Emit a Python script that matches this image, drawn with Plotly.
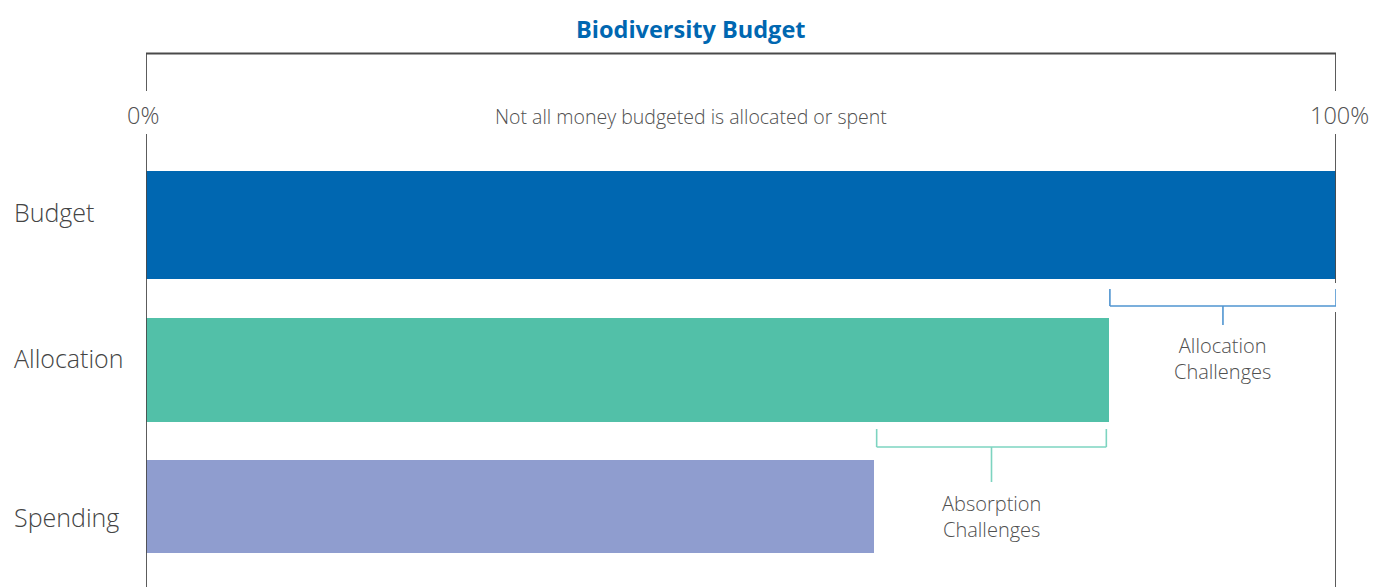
import plotly.graph_objects as go

# ---- data ----
categories = ["Budget", "Allocation", "Spending"]
values = [100, 80.9, 61.2]
tick_values = [0, 100]
tick_labels = ["0%", "100%"]
title_text = "Biodiversity Budget"
subtitle_text = "Not all money budgeted is allocated or spent"
gap_labels = ["Allocation<br>Challenges", "Absorption<br>Challenges"]

# ---- style ----
W, H = 1375, 587
M_L, M_R, M_T, M_B = 146, 38.5, 53, 0
PLOT_H = H - M_T - M_B
bar_colors = ["#0067B1", "#52C0A8", "#8F9DCF"]
bracket_colors = ["#4F94D0", "#7DD4C0"]
axis_color = "#4a4a4a"
text_color = "#505050"
FONT = "Open Sans"

# per-bar offsets / widths (category units, axis reversed)
bar_offsets = [-0.383, -0.338, -0.333]
bar_widths = [0.768, 0.733, 0.662]


def py(p):
    """pixel row -> paper y"""
    return (H - M_B - p) / PLOT_H


def px(p):
    """pixel column -> paper x"""
    return (p - M_L) / (W - M_L - M_R)


fig = go.Figure()
fig.add_trace(go.Bar(
    y=categories, x=values, orientation="h",
    marker=dict(color=bar_colors, line=dict(width=0)),
    offset=bar_offsets, width=bar_widths,
    hoverinfo="skip", showlegend=False,
))

shapes = []
line = dict(color=axis_color, width=1.8)
xmin, xmax = tick_values[0], tick_values[-1]
# top frame line
shapes.append(dict(type="line", xref="x", yref="paper", x0=xmin, x1=xmax,
                   y0=py(53.5), y1=py(53.5), line=line))
# left vertical
shapes.append(dict(type="line", xref="x", yref="paper", x0=xmin, x1=xmin,
                   y0=py(53.5), y1=py(91), line=line))
shapes.append(dict(type="line", xref="x", yref="paper", x0=xmin, x1=xmin,
                   y0=py(134), y1=py(H), line=line))
# right vertical
shapes.append(dict(type="line", xref="x", yref="paper", x0=xmax, x1=xmax,
                   y0=py(53.5), y1=py(91), line=line))
shapes.append(dict(type="line", xref="x", yref="paper", x0=xmax, x1=xmax,
                   y0=py(134), y1=py(283), line=line))
shapes.append(dict(type="line", xref="x", yref="paper", x0=xmax, x1=xmax,
                   y0=py(312), y1=py(H), line=line))


def bracket(xa, xb, ytop, ybot, ystem, color):
    ln = dict(color=color, width=1.6)
    mid = (xa + xb) / 2
    return [
        dict(type="line", xref="x", yref="paper", x0=xa, x1=xa, y0=py(ytop), y1=py(ybot), line=ln),
        dict(type="line", xref="x", yref="paper", x0=xb, x1=xb, y0=py(ytop), y1=py(ybot), line=ln),
        dict(type="line", xref="x", yref="paper", x0=xa, x1=xb, y0=py(ybot), y1=py(ybot), line=ln),
        dict(type="line", xref="x", yref="paper", x0=mid, x1=mid, y0=py(ybot), y1=py(ystem), line=ln),
    ]


shapes += bracket(values[1] + 0.1, values[0], 289, 306, 325, bracket_colors[0])
shapes += bracket(values[2] + 0.2, values[1] - 0.2, 429, 447, 482, bracket_colors[1])

annotations = []
# tick labels
for tv, tl in zip(tick_values, tick_labels):
    annotations.append(dict(x=tv, xref="x", y=py(115), yref="paper", text=tl,
                            showarrow=False, xanchor="center", yanchor="middle",
                            xshift=-3 if tv == xmin else 3,
                            font=dict(family=FONT, size=23.5, color=text_color, weight=300)))
# subtitle
annotations.append(dict(x=px(691.5), xref="paper", y=py(117), yref="paper", text=subtitle_text,
                        showarrow=False, xanchor="center", yanchor="middle",
                        font=dict(family=FONT, size=19.5, color=text_color, weight=300)))
# title
annotations.append(dict(x=px(691), xref="paper", y=py(29), yref="paper", text="<b>" + title_text + "</b>",
                        showarrow=False, xanchor="center", yanchor="middle",
                        font=dict(family=FONT, size=23.5, color="#0067B1")))
# category labels
label_rows = [212, 358, 517]
for cat, row in zip(categories, label_rows):
    annotations.append(dict(x=px(12), xref="paper", y=py(row), yref="paper", text=cat,
                            showarrow=False, xanchor="left", yanchor="middle",
                            font=dict(family=FONT, size=25, color="#444444", weight=300)))
# bracket labels
annotations.append(dict(x=(values[1] + values[0]) / 2, xref="x", y=py(358), yref="paper",
                        text=gap_labels[0], showarrow=False, xanchor="center", yanchor="middle",
                        font=dict(family=FONT, size=20, color=text_color, weight=300)))
annotations.append(dict(x=(values[2] + values[1]) / 2, xref="x", y=py(516.5), yref="paper",
                        text=gap_labels[1], showarrow=False, xanchor="center", yanchor="middle",
                        font=dict(family=FONT, size=20, color=text_color, weight=300)))

# y range so category centres land at the right pixel rows
unit = 141.0
c0 = 225.0
y_top = (M_T - c0) / unit
y_bot = (H - M_B - c0) / unit

fig.update_layout(
    width=W, height=H,
    margin=dict(l=M_L, r=M_R, t=M_T, b=M_B, pad=0),
    paper_bgcolor="white", plot_bgcolor="white",
    xaxis=dict(range=[xmin, xmax], showgrid=False, zeroline=False, showticklabels=False,
               showline=False, ticks="", fixedrange=True),
    yaxis=dict(range=[y_bot, y_top], showgrid=False, zeroline=False, showticklabels=False,
               showline=False, ticks="", fixedrange=True),
    shapes=shapes, annotations=annotations,
    bargap=0,
)

fig.write_html("out.html", config={"displayModeBar": False})
